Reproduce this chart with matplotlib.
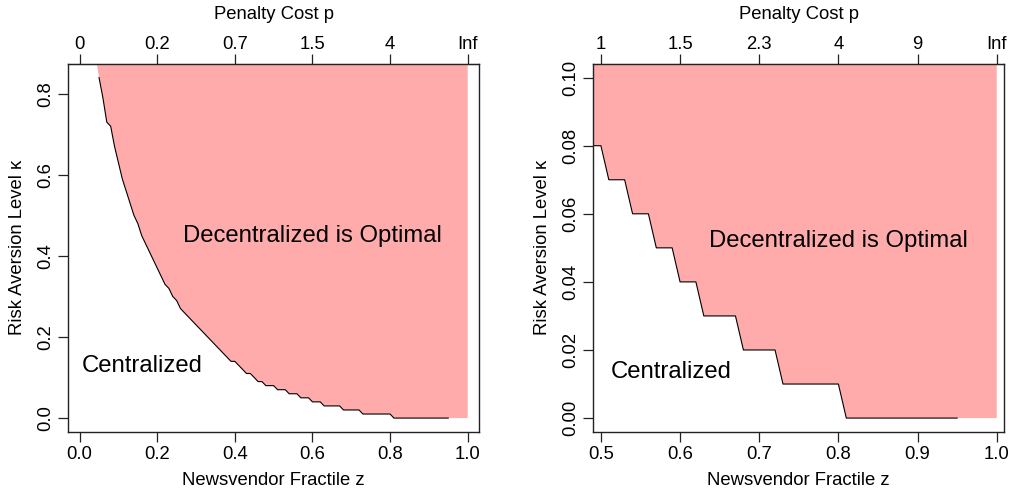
import numpy as np
import matplotlib
matplotlib.use("Agg")
import matplotlib.pyplot as plt

plt.rcParams['font.family'] = ['Liberation Sans', 'DejaVu Sans']

# Newsvendor fractile grid and threshold risk-aversion level
z_grid = np.round(np.arange(0.04, 0.955, 0.01), 2)
kappa_threshold = [
    0.90, 0.84, 0.79, 0.73, 0.72, 0.67, 0.63, 0.59, 0.56, 0.53,   # 0.04-0.13
    0.50, 0.48, 0.45, 0.43, 0.41, 0.39, 0.37, 0.35, 0.33, 0.32,   # 0.14-0.23
    0.30, 0.29, 0.27, 0.26, 0.25, 0.24, 0.23, 0.22, 0.21, 0.20,   # 0.24-0.33
    0.19, 0.18, 0.17, 0.16, 0.15, 0.14, 0.14, 0.13, 0.12, 0.11,   # 0.34-0.43
    0.11, 0.10, 0.09, 0.09, 0.08, 0.08, 0.08, 0.07, 0.07, 0.07,   # 0.44-0.53
    0.06, 0.06, 0.06, 0.05, 0.05, 0.05, 0.04, 0.04, 0.04, 0.03,   # 0.54-0.63
    0.03, 0.03, 0.03, 0.03, 0.02, 0.02, 0.02, 0.02, 0.02, 0.01,   # 0.64-0.73
    0.01, 0.01, 0.01, 0.01, 0.01, 0.01, 0.01, 0.00, 0.00, 0.00,   # 0.74-0.83
    0.00, 0.00, 0.00, 0.00, 0.00, 0.00, 0.00, 0.00, 0.00, 0.00,   # 0.84-0.93
    0.00, 0.00,                                                   # 0.94-0.95
]
z_end = 1.0  # region extends to z = 1 at kappa = 0

left_xticks = [0.0, 0.2, 0.4, 0.6, 0.8, 1.0]
left_top_labels = ["0", "0.2", "0.7", "1.5", "4", "Inf"]
left_yticks = [0.0, 0.2, 0.4, 0.6, 0.8]

right_xticks = [0.5, 0.6, 0.7, 0.8, 0.9, 1.0]
right_top_labels = ["1", "1.5", "2.3", "4", "9", "Inf"]
right_yticks = [0.00, 0.02, 0.04, 0.06, 0.08, 0.10]

fill_color = "#FFABAB"
W, H = 1010, 492
fig = plt.figure(figsize=(W / 100, H / 100), dpi=100)

fs = 13.3

def panel(rect, xlim, ylim, xticks, xtl, top_labels, yticks, ytl,
          dec_pos, cen_pos):
    ax = fig.add_axes(rect)
    zz = list(z_grid) + [z_end]
    kk = list(kappa_threshold) + [0.0]
    ax.fill_between(zz, kk, 10, color=fill_color, lw=0)
    ax.plot(z_grid[1:], kappa_threshold[1:], color="black", lw=0.8)
    ax.set_xlim(*xlim)
    ax.set_ylim(*ylim)
    ax.set_xticks(xticks)
    ax.set_xticklabels(xtl)
    ax.set_yticks(yticks)
    ax.set_yticklabels(ytl, rotation=90, va="center")
    ax.tick_params(direction="out", length=7, width=0.9, labelsize=fs,
                   colors="#222222", labelcolor="black")
    ax.tick_params(axis="x", pad=3)
    ax.tick_params(axis="y", pad=3)
    for s in ax.spines.values():
        s.set_color("#222222")
        s.set_linewidth(1.0)
    ax.set_xlabel("Newsvendor Fractile z", fontsize=fs, labelpad=7)
    ax.set_ylabel("Risk Aversion Level κ", fontsize=fs, labelpad=8)
    sec = ax.secondary_xaxis("top")
    sec.set_xticks(xticks)
    sec.set_xticklabels(top_labels)
    sec.tick_params(direction="out", length=7, width=0.9, labelsize=fs,
                    pad=1, colors="#222222", labelcolor="black")
    sec.set_xlabel("Penalty Cost p", fontsize=fs, labelpad=12)
    ax.text(dec_pos[0], dec_pos[1], "Decentralized is Optimal",
            fontsize=17.2, ha="center", va="center")
    ax.text(cen_pos[0], cen_pos[1], "Centralized",
            fontsize=17.2, ha="center", va="center")
    return ax

ax_w = 410.7 / W
ax_h = 367.7 / H
bot = 1 - 431.7 / H

panel([68.3 / W, bot, ax_w, ax_h], (-0.0292, 1.0292), (-0.0336, 0.8736),
      left_xticks, ["0.0", "0.2", "0.4", "0.6", "0.8", "1.0"], left_top_labels,
      left_yticks, ["0.0", "0.2", "0.4", "0.6", "0.8"],
      (0.60, 0.45), (0.16, 0.128))

panel([593.3 / W, bot, ax_w, ax_h], (0.4904, 1.0092), (-0.004, 0.104),
      right_xticks, ["0.5", "0.6", "0.7", "0.8", "0.9", "1.0"], right_top_labels,
      right_yticks, ["0.00", "0.02", "0.04", "0.06", "0.08", "0.10"],
      (0.80, 0.052), (0.589, 0.0134))

fig.savefig("out.png", dpi=100)
